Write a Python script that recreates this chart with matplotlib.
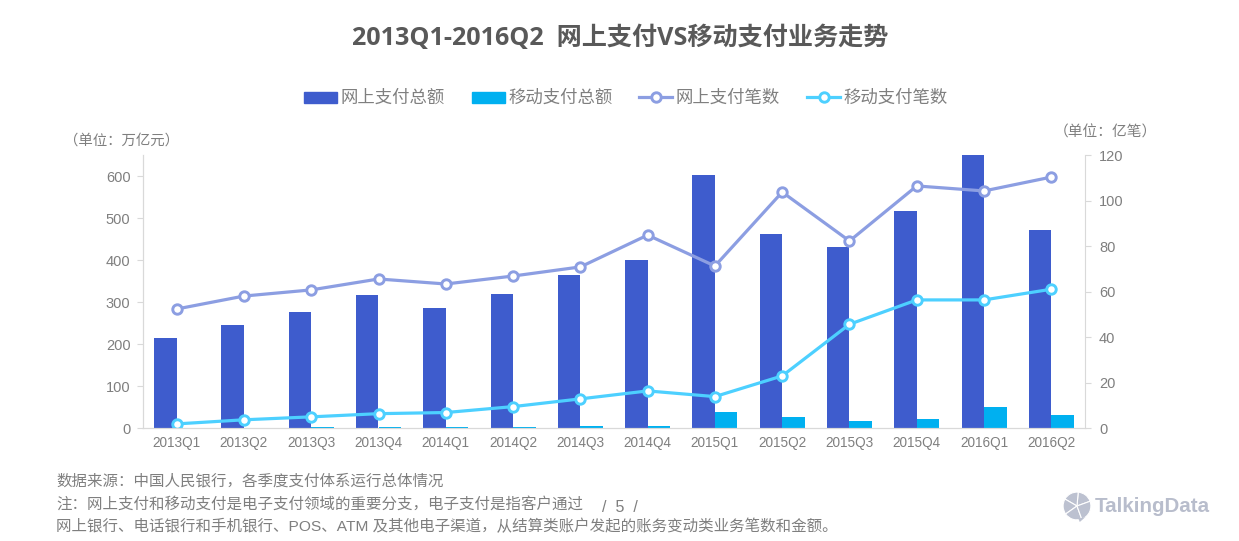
import numpy as np
import matplotlib
matplotlib.use("Agg")
import matplotlib.pyplot as plt
from matplotlib.lines import Line2D
from matplotlib.patches import Patch, Wedge, Polygon

plt.rcParams['font.family'] = ['Liberation Sans', 'Noto Sans CJK SC', 'DejaVu Sans']

quarters = ["2013Q1", "2013Q2", "2013Q3", "2013Q4", "2014Q1", "2014Q2", "2014Q3",
            "2014Q4", "2015Q1", "2015Q2", "2015Q3", "2015Q4", "2016Q1", "2016Q2"]
online_amount = [215, 245, 277, 317, 286, 320, 365, 400, 603, 462, 431, 517, 650, 472]
mobile_amount = [0.5, 1, 1.5, 2.5, 2.5, 3, 5, 5, 38, 27, 17, 22, 50, 30]
online_count = [52.3, 58, 60.7, 65.5, 63.3, 66.8, 70.8, 84.8, 71.2, 103.7, 82.2, 106.4, 104.2, 110.3]
mobile_count = [1.8, 3.6, 4.9, 6.3, 6.8, 9.4, 12.8, 16.3, 13.8, 22.9, 45.6, 56.3, 56.3, 61]

GREY = '#7f7f7f'
AXIS = '#d9d9d9'
BLUE = '#3e5ccd'
CYAN = '#00b0f0'
LINE1 = '#8c9ee2'
LINE2 = '#4dd0ff'
W, H = 1239, 541

fig = plt.figure(figsize=(W / 100, H / 100), dpi=100)
ax = fig.add_axes([143 / W, 1 - 428 / H, (1085 - 143) / W, (428 - 155) / H])
ax2 = ax.twinx()

x = np.arange(len(quarters))
bw = 0.335
ax.bar(x - bw / 2, online_amount, bw, color=BLUE)
ax.bar(x + bw / 2, mobile_amount, bw, color=CYAN)

mk = dict(marker='o', markersize=6.8, markerfacecolor='white', markeredgewidth=2.1, linewidth=2.3)
ax2.plot(x, online_count, color=LINE1, **mk)
ax2.plot(x, mobile_count, color=LINE2, **mk)

ax.set_xlim(-0.5, len(quarters) - 0.5)
ax.set_ylim(0, 650)
ax2.set_ylim(0, 120)
ax.set_yticks(range(0, 601, 100))
ax2.set_yticks(range(0, 121, 20))
ax.set_xticks(x)
ax.set_xticklabels(quarters)

for a in (ax, ax2):
    a.spines['top'].set_visible(False)
    for s in a.spines.values():
        s.set_color(AXIS)
ax.spines['right'].set_visible(False)
ax.tick_params(axis='x', length=0, labelsize=9.8, labelcolor=GREY, pad=6)
ax.tick_params(axis='y', length=4, color=AXIS, labelsize=10.5, labelcolor=GREY, pad=5)
ax2.tick_params(axis='y', length=4, color=AXIS, labelsize=10.5, labelcolor=GREY, pad=6)

fig.text(620 / W, 1 - 38 / H, "2013Q1-2016Q2  网上支付VS移动支付业务走势", ha='center', va='center',
         fontsize=18.1, fontweight='bold', color='#595959',
         family=['Open Sans', 'Noto Sans CJK SC', 'DejaVu Sans'])

handles = [
    Patch(color=BLUE, label="网上支付总额"),
    Patch(color=CYAN, label="移动支付总额"),
    Line2D([], [], color=LINE1, **mk, label="网上支付笔数"),
    Line2D([], [], color=LINE2, **mk, label="移动支付笔数"),
]
fig.legend(handles=handles, ncol=4, loc='center', bbox_to_anchor=(626 / W, 1 - 98 / H), frameon=False,
           fontsize=12.5, labelcolor=GREY, handlelength=1.9, handleheight=0.6, handletextpad=0.2,
           columnspacing=1.55, borderpad=0, borderaxespad=0)

fig.text(122 / W, 1 - 141 / H, "（单位：万亿元）", ha='center', va='center', fontsize=10.4, color=GREY)
fig.text(1105 / W, 1 - 132 / H, "（单位：亿笔）", ha='center', va='center', fontsize=10.6, color=GREY)

notes = ["数据来源：中国人民银行，各季度支付体系运行总体情况",
         "注：网上支付和移动支付是电子支付领域的重要分支，电子支付是指客户通过",
         "网上银行、电话银行和手机银行、POS、ATM 及其他电子渠道，从结算类账户发起的账务变动类业务笔数和金额。"]
for txt, y in zip(notes, [481, 504, 526]):
    fig.text(56 / W, 1 - y / H, txt, ha='left', va='center', fontsize=11.15, color=GREY)

fig.text(620 / W, 1 - 507 / H, "/  5  /", ha='center', va='center', fontsize=11.5, color=GREY)

# logo
logo = fig.add_axes([1061 / W, 1 - 522 / H, 32 / W, 32 / H])
logo.set_xlim(-1.15, 1.15)
logo.set_ylim(-1.15, 1.15)
logo.axis('off')
for a1, a2 in [(20, 85), (85, 150), (150, 215), (215, 290), (290, 380)]:
    logo.add_patch(Wedge((0, 0), 1, a1, a2, facecolor='#bcc1d0', edgecolor='white', linewidth=0.8))
logo.add_patch(Polygon([(0.1, -0.9), (0.6, -0.8), (0.2, -1.15)], facecolor='#bcc1d0', edgecolor='none'))
fig.text(1095 / W, 1 - 506 / H, "TalkingData", ha='left', va='center', fontsize=14.8, fontweight='bold',
         color='#b8bdcc', family='Liberation Sans')

fig.savefig("out.png", dpi=100)
